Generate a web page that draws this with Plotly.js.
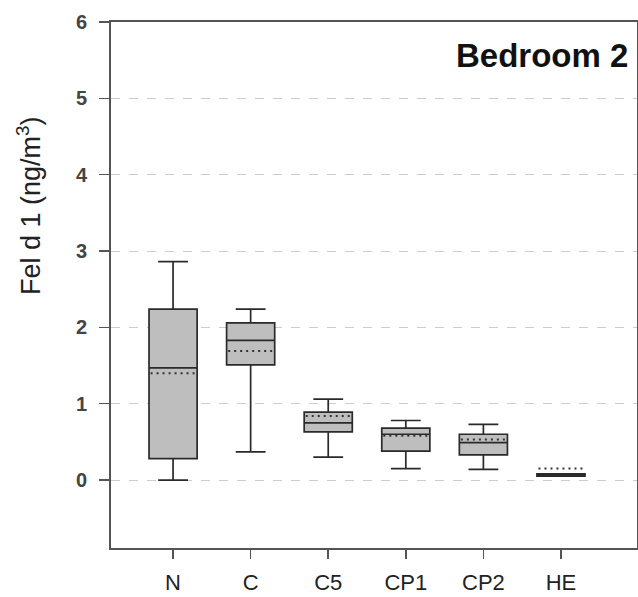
<!DOCTYPE html>
<html>
<head>
<meta charset="utf-8">
<script src="https://cdn.plot.ly/plotly-3.0.1.min.js"></script>
<style>html,body{margin:0;padding:0;background:#fff;}#chart{width:638px;height:597px;}</style>
</head>
<body>
<div id="chart"></div>
<script>
const categories = ['N', 'C', 'C5', 'CP1', 'CP2', 'HE'];
const lowerWhisker = [0.00, 0.37, 0.30, 0.15, 0.14, 0.05];
const q1Values     = [0.28, 1.51, 0.63, 0.38, 0.33, 0.05];
const medianValues = [1.47, 1.83, 0.75, 0.60, 0.49, 0.07];
const q3Values     = [2.24, 2.06, 0.89, 0.68, 0.60, 0.08];
const upperWhisker = [2.86, 2.24, 1.06, 0.78, 0.73, 0.08];
const meanValues   = [1.40, 1.69, 0.84, 0.58, 0.53, 0.15];
const yTicks = [0, 1, 2, 3, 4, 5, 6];
const yTickLabels = ['0', '1', '2', '3', '4', '5', '6'];

const positions = categories.map((c, i) => i);
const halfW = 0.29;

const boxTrace = {
  type: 'box',
  x: positions,
  q1: q1Values,
  median: medianValues,
  q3: q3Values,
  lowerfence: lowerWhisker,
  upperfence: upperWhisker,
  width: 0.62,
  whiskerwidth: 0.62,
  fillcolor: 'rgb(190,190,190)',
  line: {color: '#2a2a2a', width: 1.7},
  boxpoints: false,
  hoverinfo: 'skip',
  showlegend: false
};

const mx = [], my = [];
positions.forEach((p, i) => {
  mx.push(p - halfW, p + halfW, null);
  my.push(meanValues[i], meanValues[i], null);
});
const meanTrace = {
  type: 'scatter', mode: 'lines', x: mx, y: my,
  line: {color: '#333', width: 2, dash: '2px,4px'},
  hoverinfo: 'skip', showlegend: false
};

const layout = {
  width: 638, height: 597,
  margin: {l: 111, r: 1, t: 22, b: 49},
  paper_bgcolor: '#fff', plot_bgcolor: '#fff',
  font: {family: 'Liberation Sans, Arial, sans-serif', color: '#444'},
  showlegend: false,
  xaxis: {
    range: [-0.8, 5.98],
    tickvals: positions, ticktext: categories,
    showgrid: false, zeroline: false,
    showline: true, linecolor: '#555', linewidth: 2, mirror: true,
    ticks: 'outside', ticklen: 9, tickcolor: '#555', tickwidth: 1.5,
    ticklabelstandoff: 5,
    tickfont: {size: 22, color: '#222'}
  },
  yaxis: {
    range: [-0.89, 6],
    tickvals: yTicks, ticktext: yTickLabels,
    showgrid: true, gridcolor: '#ccc', griddash: 'dash', gridwidth: 1,
    zeroline: false,
    showline: true, linecolor: '#555', linewidth: 2, mirror: true,
    ticks: 'outside', ticklen: 10, tickcolor: '#555', tickwidth: 1.5,
    ticklabelstandoff: 8,
    tickfont: {size: 20, color: '#444', weight: 'bold', family: 'Liberation Sans, Arial, sans-serif'}
  },
  annotations: [
    {text: 'Fel d 1 (ng/m<sup>3</sup>)', xref: 'paper', yref: 'paper',
     x: -0.156, y: 0.652, xanchor: 'center', yanchor: 'middle', textangle: -90,
     showarrow: false, font: {size: 27, color: '#222'}},
    {text: '<b>Bedroom 2</b>', xref: 'paper', yref: 'paper',
     x: 0.987, y: 0.937, xanchor: 'right', yanchor: 'middle',
     showarrow: false, font: {size: 33, color: '#111'}}
  ]
};

Plotly.newPlot('chart', [boxTrace, meanTrace], layout, {staticPlot: true});
</script>
</body>
</html>
